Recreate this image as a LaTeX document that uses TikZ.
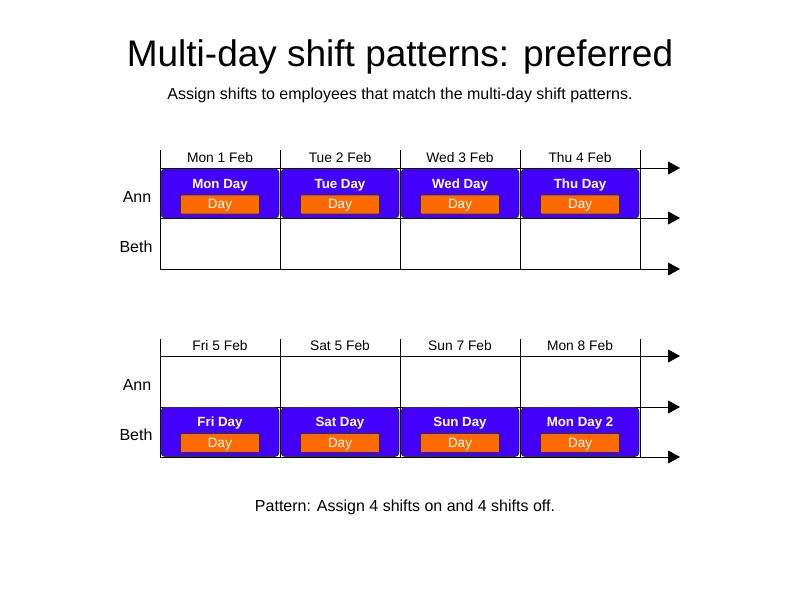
\documentclass[tikz,border=0pt]{standalone}
\usepackage{fontspec}
\setmainfont{Liberation Sans}
\usetikzlibrary{arrows.meta}
\definecolor{shiftblue}{HTML}{4400FF}
\definecolor{shiftorange}{HTML}{FF6A00}
\begin{document}
\begin{tikzpicture}[x=1pt,y=-1pt,
  gridline/.style={draw=black,line width=0.8pt},
  axis/.style={draw=black,line width=0.8pt,-{Triangle[length=12pt,width=13pt]}},
  shiftbox/.style={draw=black!80,fill=shiftblue,rounded corners=4pt,line width=0.8pt,minimum width=118pt,minimum height=49pt,inner sep=0pt},
  shifttitle/.style={text=white,font=\fontsize{13.3}{15}\selectfont\bfseries},
  daybox/.style={draw=black!80,fill=shiftorange,line width=0.8pt,minimum width=79pt,minimum height=19pt,inner sep=0pt,rounded corners=1pt},
  daytext/.style={text=white,font=\fontsize{13.5}{15}\selectfont,inner sep=0pt},
  hdr/.style={font=\fontsize{13.8}{15}\selectfont},
  rowlab/.style={font=\fontsize{16}{18}\selectfont}]
\useasboundingbox (0,0) rectangle (800,600);
\node (title) at (400,57) {\fontsize{37}{40}\selectfont Multi-day shift patterns: preferred};
\node (sub) at (400,95) {\fontsize{16}{18}\selectfont Assign shifts to employees that match the multi-day shift patterns.};
\node (foot) at (405,507) {\fontsize{16}{18}\selectfont Pattern: Assign 4 shifts on and 4 shifts off.};

% grid 1
\foreach \x in {160,280,400,520,640} \draw[gridline] (\x,150) -- (\x,269);
\coordinate (a1s) at (160,168); \coordinate (a1e) at (680,168);
\coordinate (a2s) at (160,218); \coordinate (a2e) at (680,218);
\coordinate (a3s) at (160,269); \coordinate (a3e) at (680,269);
\draw[axis] (a1s) -- (a1e);
\draw[axis] (a2s) -- (a2e);
\draw[axis] (a3s) -- (a3e);
\node[hdr] (h1) at (220,158) {Mon 1 Feb};
\node[hdr] (h2) at (340,158) {Tue 2 Feb};
\node[hdr] (h3) at (460,158) {Wed 3 Feb};
\node[hdr] (h4) at (580,158) {Thu 4 Feb};
\node[rowlab] (ann1) at (137,197) {Ann};
\node[rowlab] (beth1) at (136,247) {Beth};
\foreach \x/\t [count=\i] in {220/Mon Day,340/Tue Day,460/Wed Day,580/Thu Day}{
  \node[shiftbox] (s1\i) at (\x,193.5) {};
  \node[shifttitle] (t1\i) at (\x,185) {\t};
  \node[daybox] (d1\i) at (\x,204.5) {};
  \node[daytext] (e1\i) at (\x,205.5) {Day};
}

% grid 2
\foreach \x in {160,280,400,520,640} \draw[gridline] (\x,339) -- (\x,457);
\coordinate (b1s) at (160,356); \coordinate (b1e) at (680,356);
\coordinate (b2s) at (160,407); \coordinate (b2e) at (680,407);
\coordinate (b3s) at (160,457); \coordinate (b3e) at (680,457);
\draw[axis] (b1s) -- (b1e);
\draw[axis] (b2s) -- (b2e);
\draw[axis] (b3s) -- (b3e);
\node[hdr] (g1) at (220,346) {Fri 5 Feb};
\node[hdr] (g2) at (340,346) {Sat 5 Feb};
\node[hdr] (g3) at (460,346) {Sun 7 Feb};
\node[hdr] (g4) at (580,346) {Mon 8 Feb};
\node[rowlab] (ann2) at (137,385) {Ann};
\node[rowlab] (beth2) at (136,435) {Beth};
\foreach \x/\t [count=\i] in {220/Fri Day,340/Sat Day,460/Sun Day,580/Mon Day 2}{
  \node[shiftbox] (s2\i) at (\x,432) {};
  \node[shifttitle] (t2\i) at (\x,423.5) {\t};
  \node[daybox] (d2\i) at (\x,443) {};
  \node[daytext] (e2\i) at (\x,444) {Day};
}
\end{tikzpicture}
\end{document}
